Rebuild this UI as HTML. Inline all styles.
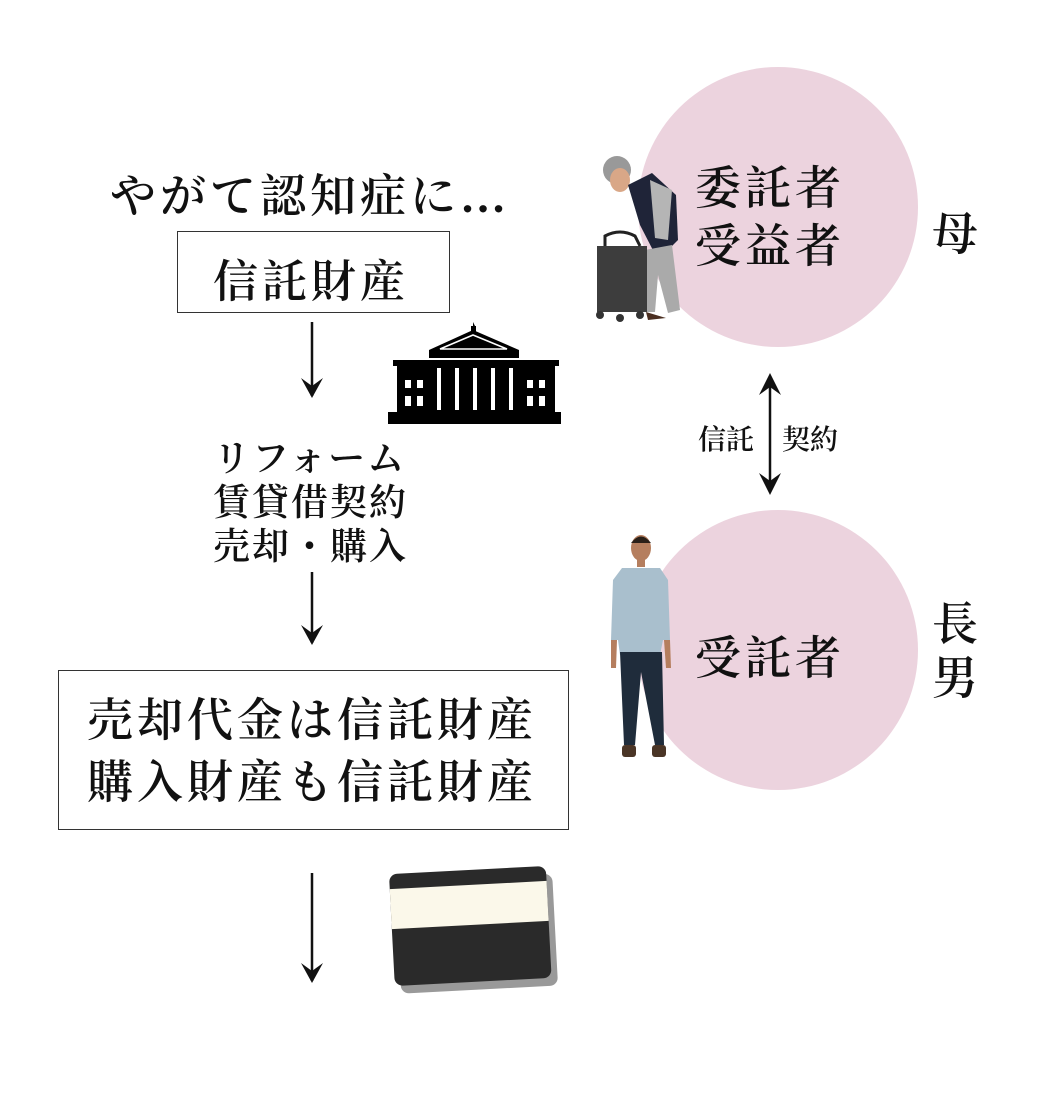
<!DOCTYPE html>
<html><head><meta charset="utf-8"><style>
html,body{margin:0;padding:0;background:#fff;}
body{width:1060px;height:1100px;position:relative;overflow:hidden;font-family:"Liberation Serif","Noto Serif CJK SC",serif;color:#111;font-weight:600;}
.t{position:absolute;white-space:nowrap;}
.box{position:absolute;border:1.5px solid #333;box-sizing:border-box;background:#fff;}
.c{position:absolute;border-radius:50%;background:#ecd3de;}
</style></head><body>
<div class="c" style="left:638px;top:67px;width:280px;height:280px;"></div>
<div class="c" style="left:638px;top:510px;width:280px;height:280px;"></div>

<div class="t" style="left:110px;top:160px;font-size:46px;letter-spacing:4px;">やがて認知症に…</div>
<div class="box" style="left:177px;top:231px;width:273px;height:82px;"></div>
<div class="t" style="left:213px;top:245px;font-size:45px;letter-spacing:4px;">信託財産</div>

<div class="t" style="left:213px;top:438px;font-size:37px;line-height:44px;letter-spacing:2px;">リフォーム<br>賃貸借契約<br>売却・購入</div>

<div class="box" style="left:58px;top:670px;width:511px;height:160px;"></div>
<div class="t" style="left:87px;top:690px;font-size:46px;line-height:62px;letter-spacing:4px;">売却代金は信託財産<br>購入財産も信託財産</div>

<div class="t" style="left:695px;top:160px;font-size:46px;line-height:58px;letter-spacing:4px;">委託者<br>受益者</div>
<div class="t" style="left:932px;top:198px;font-size:46px;">母</div>
<div class="t" style="left:695px;top:622px;font-size:46px;letter-spacing:4px;">受託者</div>
<div class="t" style="left:932px;top:598px;font-size:46px;line-height:54px;">長<br>男</div>
<div class="t" style="left:698px;top:418px;font-size:28px;">信託</div>
<div class="t" style="left:782px;top:418px;font-size:28px;">契約</div>

<svg width="1060" height="1100" style="position:absolute;left:0;top:0">
<g stroke="#111" stroke-width="2.5" fill="none">
<line x1="312" y1="322" x2="312" y2="396"/>
<line x1="312" y1="572" x2="312" y2="643"/>
<line x1="312" y1="873" x2="312" y2="981"/>
<line x1="770" y1="378" x2="770" y2="490"/>
</g>
<path d="M301,378 L312,398 L323,378 L312,386z" fill="#111"/>
<path d="M301,625 L312,645 L323,625 L312,633z" fill="#111"/>
<path d="M301,963 L312,983 L323,963 L312,971z" fill="#111"/>
<path d="M759,395 L770,373 L781,395 L770,387z" fill="#111"/>
<path d="M759,473 L770,495 L781,473 L770,481z" fill="#111"/>

<!-- building -->
<g fill="#000">
<path d="M473,322 l3,6 l-3,0z"/><rect x="471" y="326" width="5" height="6"/>
<path d="M429,350 L473,330 L519,350 L519,358 L429,358z"/>
<rect x="393" y="360" width="166" height="6"/>
<rect x="397" y="366" width="158" height="46"/>
<rect x="388" y="412" width="173" height="12"/>
</g>
<g fill="#fff">
<path d="M440,349 L473,335 L507,349z" fill="none" stroke="#fff" stroke-width="1.5"/>
<rect x="437" y="368" width="4" height="42"/><rect x="455" y="368" width="4" height="42"/><rect x="473" y="368" width="4" height="42"/><rect x="491" y="368" width="4" height="42"/><rect x="509" y="368" width="4" height="42"/>
<rect x="405" y="380" width="6" height="8"/><rect x="417" y="380" width="6" height="8"/><rect x="527" y="380" width="6" height="8"/><rect x="539" y="380" width="6" height="8"/>
<rect x="405" y="396" width="6" height="10"/><rect x="417" y="396" width="6" height="10"/><rect x="527" y="396" width="6" height="10"/><rect x="539" y="396" width="6" height="10"/>
</g>

<!-- card -->
<g transform="rotate(-3 470 930)">
<rect x="398" y="878" width="157" height="112" rx="8" fill="#999"/>
<rect x="392" y="870" width="157" height="112" rx="8" fill="#2a2a2a"/>
<rect x="392" y="885" width="157" height="40" fill="#fbf8ea"/>
</g>

<!-- elderly woman -->
<g>
<circle cx="617" cy="170" r="14" fill="#999"/>
<ellipse cx="620" cy="180" rx="10" ry="12" fill="#d9a787"/>
<path d="M628,185 L652,173 L676,195 L678,240 L658,260 L640,225z" fill="#1f2438"/>
<path d="M645,250 L672,245 L680,310 L668,313 L658,275 L655,312 L645,312z" fill="#aaa"/>
<path d="M650,180 L672,190 L668,240 L655,238z" fill="#b5b5b5"/>
<path d="M646,312 L666,318 L648,320z" fill="#4a2e20"/>
<rect x="597" y="246" width="50" height="66" fill="#3d3d3d"/>
<path d="M605,246 L605,236 Q620,228 635,236 L640,246" fill="none" stroke="#222" stroke-width="3"/>
<circle cx="600" cy="315" r="4" fill="#333"/><circle cx="620" cy="318" r="4" fill="#333"/><circle cx="640" cy="315" r="4" fill="#333"/>
</g>

<!-- man -->
<g>
<ellipse cx="641" cy="548" rx="10" ry="13" fill="#b57e5e"/>
<path d="M631,543 Q641,530 651,543z" fill="#2a1f18"/>
<rect x="637" y="559" width="8" height="8" fill="#b57e5e"/>
<path d="M622,568 L660,568 L668,580 L670,640 L663,640 L660,655 L620,655 L618,640 L611,640 L613,580z" fill="#a9bfcd"/>
<path d="M611,640 L617,640 L616,668 L611,668z" fill="#b57e5e"/>
<path d="M664,640 L670,640 L671,668 L666,668z" fill="#b57e5e"/>
<path d="M620,652 L662,652 L664,745 L655,745 L641,672 L635,745 L624,745z" fill="#1f2c3b"/>
<rect x="622" y="745" width="14" height="12" rx="3" fill="#4a3526"/>
<rect x="652" y="745" width="14" height="12" rx="3" fill="#4a3526"/>
</g>
</svg>
</body></html>
